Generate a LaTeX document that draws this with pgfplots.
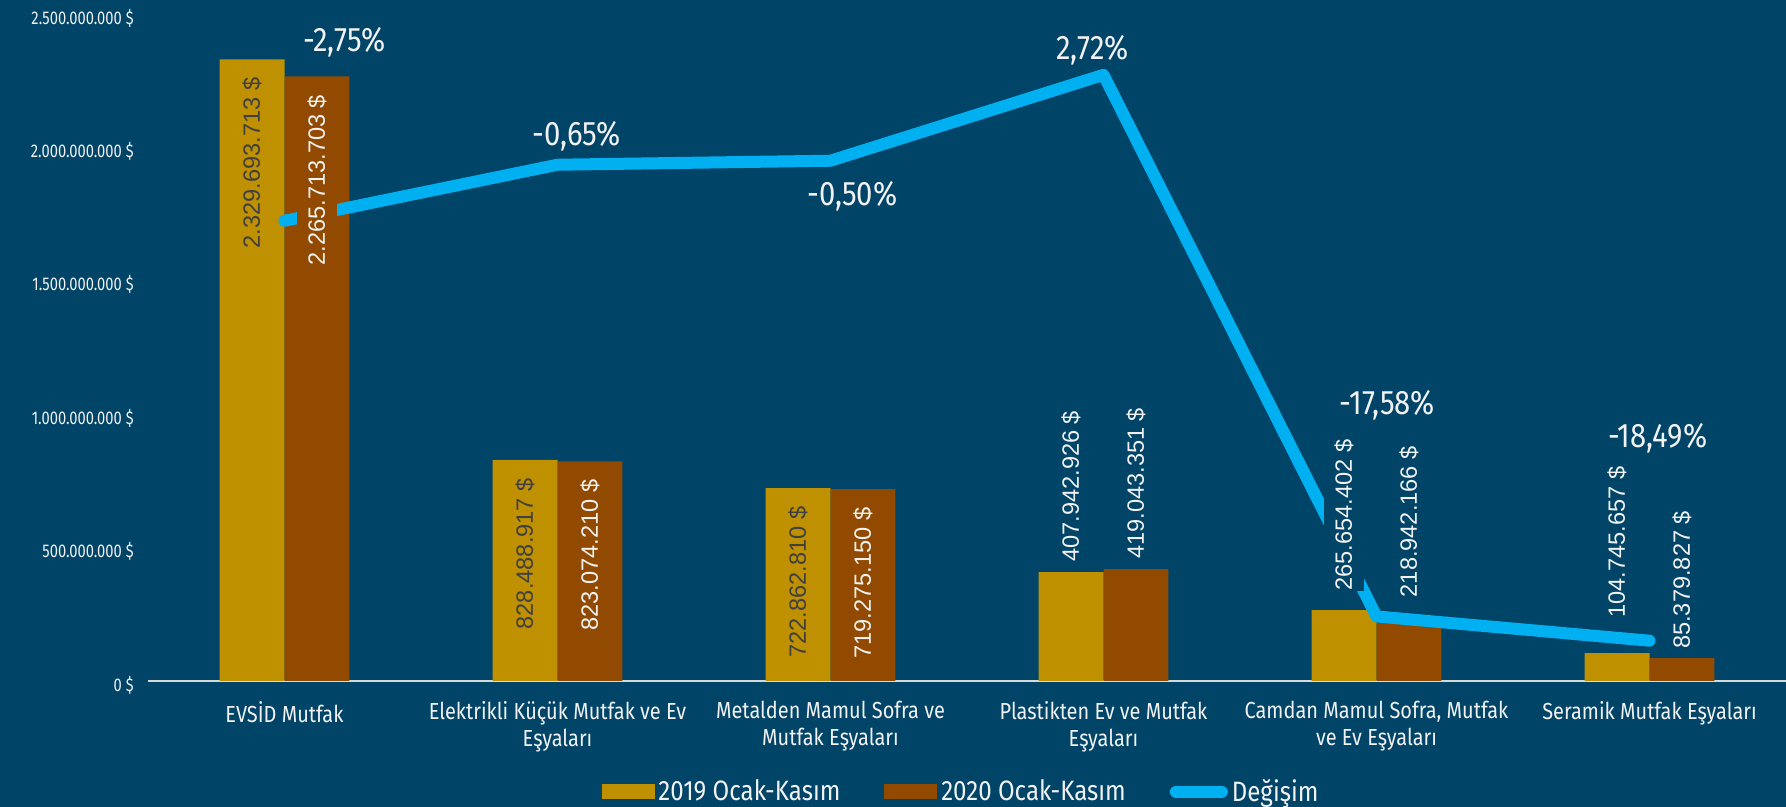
\documentclass[border=0pt]{standalone}
\usepackage{pgfplots}
\pgfplotsset{compat=1.18}
\usepackage{pgfplotstable}
\usepackage{fontspec}
\setmainfont{Fira Sans}
\newfontfamily\cond[FakeStretch=0.86]{Fira Sans}
\newfontfamily\condt[FakeStretch=0.80]{Fira Sans}
\newfontfamily\arial{Liberation Sans}
\definecolor{bg}{HTML}{004468}
\definecolor{gold}{HTML}{BF9000}
\definecolor{brn}{HTML}{924A00}
\definecolor{lblue}{HTML}{00B0F0}
\definecolor{txt}{HTML}{F2F2F2}
\definecolor{dgray}{HTML}{404040}
\definecolor{axgray}{HTML}{D9D9D9}

\pgfplotstableread{
x y lab
0 2329693713 2.329.693.713
1 828488917 828.488.917
2 722862810 722.862.810
}\tabAin
\pgfplotstableread{
x y lab off
3 407942926 407.942.926 5
4 265654402 265.654.402 9.5
5 104745657 104.745.657 17.5
}\tabAout
\pgfplotstableread{
x y lab
0 2265713703 2.265.713.703
1 823074210 823.074.210
2 719275150 719.275.150
}\tabBin
\pgfplotstableread{
x y lab off
3 419043351 419.043.351 5
4 218942166 218.942.166 12.5
5 85379827 85.379.827 4.5
}\tabBout
\pgfplotstableread{
x y
0 -2.75
1 -0.65
2 -0.50
3 2.72
4 -17.58
5 -18.49
}\tabC

\tikzset{pct/.style={font=\cond\fontsize{17}{20}\selectfont, text=txt, inner sep=0pt}}
\pgfplotsset{
  base/.style={scale only axis, width=819pt, height=333.5pt,
    xmin=-0.5, xmax=5.5, at={(74pt,63pt)}, anchor=south west},
  lblin/.style={draw=none, mark=none,
    point meta=explicit symbolic, nodes near coords={\pgfplotspointmeta~\$},
    every node near coord/.append style={font=\arial\fontsize{11.8}{14}\selectfont,
      yshift=-9pt, rotate=90, anchor=east, inner xsep=0pt, inner ysep=5pt}},
  lblout/.style={draw=none, mark=none,
    point meta=explicit symbolic, nodes near coords={\pgfplotspointmeta~\$},
    visualization depends on={\thisrow{off} \as \off},
    every node near coord/.append style={font=\arial\fontsize{11.8}{14}\selectfont,
      yshift=\off pt, rotate=90, anchor=west, inner xsep=0pt, inner ysep=5pt, fill=bg, text=txt}},
}

\begin{document}
\begin{tikzpicture}
\fill[bg] (0,0) rectangle (893pt,403.5pt);
\begin{axis}[base, ymin=0, ymax=2.5e9,
  axis x line*=bottom, axis y line*=left,
  y axis line style={draw=none},
  x axis line style={draw=axgray, line width=1pt, -},
  major tick length=0pt,
  xtick={0,1,2,3,4,5},
  xticklabels={{EVSİD Mutfak},{Elektrikli Küçük Mutfak ve Ev\\Eşyaları},{Metalden Mamul Sofra ve\\Mutfak Eşyaları},{Plastikten Ev ve Mutfak\\Eşyaları},{Camdan Mamul Sofra, Mutfak\\ve Ev Eşyaları},{Seramik Mutfak Eşyaları}},
  xticklabel style={font=\cond\fontsize{11.6}{13.5}\selectfont, text=txt, align=center, anchor=north, inner sep=0pt, yshift=-10pt},
  ytick={0,500000000,1000000000,1500000000,2000000000,2500000000},
  yticklabels={0 \$,500.000.000 \$,1.000.000.000 \$,1.500.000.000 \$,2.000.000.000 \$,2.500.000.000 \$},
  yticklabel style={font=\condt\fontsize{9.2}{10}\selectfont, text=txt, inner sep=0pt, xshift=-7pt, yshift=-2pt},
  legend style={at={(0.497,-0.166)}, anchor=center, legend columns=3, draw=none, fill=none,
    text=txt, font=\cond\fontsize{14}{16}\selectfont,
    /tikz/every even column/.append style={column sep=20pt}},
  legend cell align=left,
]
\addplot[ybar, bar width=0.238, bar shift=-0.119, fill=gold, draw=none, forget plot] table[x=x,y=y]{\tabAin};
\addplot[ybar, bar width=0.238, bar shift=-0.119, fill=gold, draw=none, forget plot] table[x=x,y=y]{\tabAout};
\addplot[ybar, bar width=0.238, bar shift=0.119, fill=brn, draw=none, forget plot] table[x=x,y=y]{\tabBin};
\addplot[ybar, bar width=0.238, bar shift=0.119, fill=brn, draw=none, forget plot] table[x=x,y=y]{\tabBout};
\addlegendimage{legend image code/.code={\fill[gold] (0pt,-3.5pt) rectangle (26pt,3.5pt);}}
\addlegendentry{2019 Ocak-Kasım}
\addlegendimage{legend image code/.code={\fill[brn] (0pt,-3.5pt) rectangle (26pt,3.5pt);}}
\addlegendentry{2020 Ocak-Kasım}
\addlegendimage{legend image code/.code={\draw[lblue, line width=6pt, line cap=round] (3pt,0pt) -- (26pt,0pt);}}
\addlegendentry{Değişim}
\end{axis}
\begin{axis}[base, ymin=-20, ymax=5, hide axis, clip=false]
\addplot[lblue, line width=6pt, line cap=round, line join=round] table[x=x,y=y]{\tabC};
\node[pct] at (axis cs:0.22,3.93) {-2,75\%};
\node[pct] at (axis cs:1.07,0.40) {-0,65\%};
\node[pct] at (axis cs:2.08,-1.84) {-0,50\%};
\node[pct] at (axis cs:2.96,3.63) {2,72\%};
\node[pct] at (axis cs:4.04,-9.68) {-17,58\%};
\node[pct] at (axis cs:5.03,-10.91) {-18,49\%};
\end{axis}
\begin{axis}[base, ymin=0, ymax=2.5e9, hide axis, clip=false]
\addplot[lblin, every node near coord/.append style={fill=gold, text=dgray}] table[x expr=\thisrow{x}-0.119,y=y,meta=lab]{\tabAin};
\addplot[lblout] table[x expr=\thisrow{x}-0.119,y=y,meta=lab]{\tabAout};
\addplot[lblin, every node near coord/.append style={fill=brn, text=txt}] table[x expr=\thisrow{x}+0.119,y=y,meta=lab]{\tabBin};
\addplot[lblout] table[x expr=\thisrow{x}+0.119,y=y,meta=lab]{\tabBout};
\end{axis}
\pgfresetboundingbox
\useasboundingbox (0,0) rectangle (893pt,403.5pt);
\end{tikzpicture}
\end{document}
